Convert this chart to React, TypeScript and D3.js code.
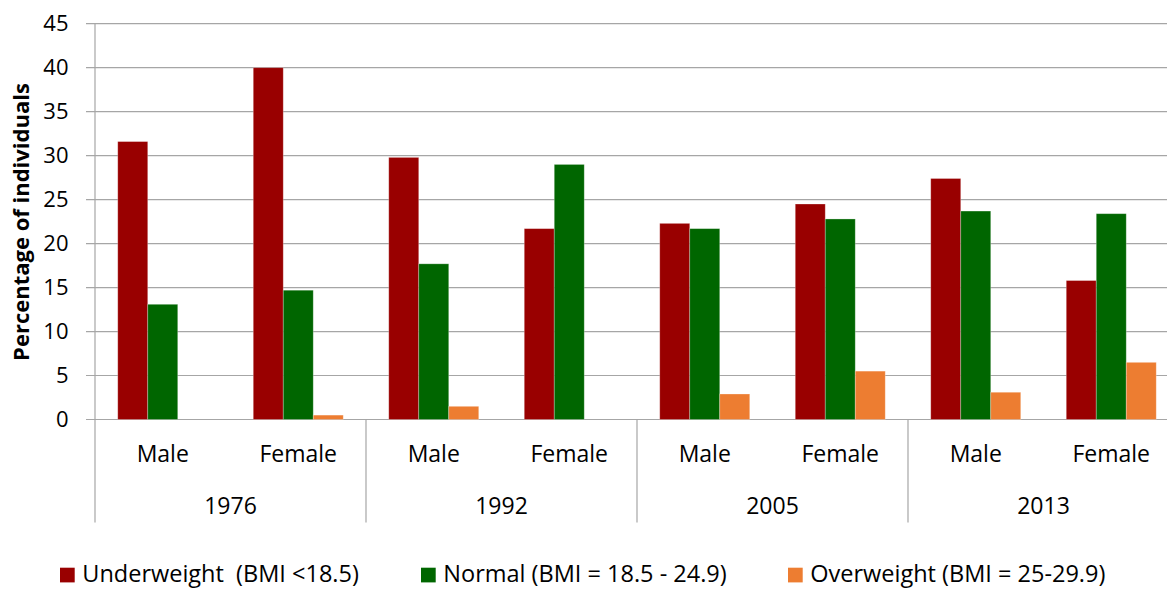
import React from "react";
import * as d3 from "d3";

const years = ["1976", "1992", "2005", "2013"];
const sexes = ["Male", "Female"];
const seriesNames = [
  "Underweight  (BMI <18.5)",
  "Normal (BMI = 18.5 - 24.9)",
  "Overweight (BMI = 25-29.9)",
];
const seriesColors = ["#990000", "#006600", "#ED7D31"];
// order: 1976 M, 1976 F, 1992 M, 1992 F, 2005 M, 2005 F, 2013 M, 2013 F
const underweight = [31.6, 40.0, 29.8, 21.7, 22.3, 24.5, 27.4, 15.8];
const normal = [13.1, 14.7, 17.7, 29.0, 21.7, 22.8, 23.7, 23.4];
const overweight = [0, 0.5, 1.5, 0, 2.9, 5.5, 3.1, 6.5];
const yTicks = [0, 5, 10, 15, 20, 25, 30, 35, 40, 45];

const W = 1167;
const H = 589;
const FONT = "'Open Sans', sans-serif";

export default function App() {
  const left = 95;
  const catW = 135.5;
  const right = left + catW * years.length * sexes.length;
  const y0 = 419.5;
  const yTop = 23.7;
  const y = d3.scaleLinear().domain([0, 45]).range([y0, yTop]);

  const cats: { year: string; sex: string; key: string }[] = [];
  years.forEach((yr) => sexes.forEach((s) => cats.push({ year: yr, sex: s, key: yr + "-" + s })));

  const x0 = d3.scaleBand<string>().domain(cats.map((c) => c.key)).range([left, right]).padding(0);
  const xYear = d3.scaleBand<string>().domain(years).range([left, right]).padding(0);
  const barGroupW = 90;
  const x1 = d3.scaleBand<string>().domain(seriesNames).range([0, barGroupW]).padding(0);
  const offset = (x0.bandwidth() - barGroupW) / 2;

  const data = [underweight, normal, overweight];
  const grid = "#A6A6A6";
  const legendX = [60, 421, 788];

  return (
    <svg
      width={W}
      height={H}
      style={{ position: "absolute", left: 0, top: 0, background: "#fff" }}
      fontFamily={FONT}
    >
      <rect x={0} y={0} width={W} height={H} fill="#fff" />
      {yTicks.map((t) => (
        <g key={t}>
          <line x1={86} x2={right} y1={y(t)} y2={y(t)} stroke={grid} strokeWidth={1.2} />
          <text x={68.5} y={y(t)} dy="0.33em" textAnchor="end" fontSize={22} fill="#000">
            {t}
          </text>
        </g>
      ))}
      <line x1={left} x2={left} y1={yTop} y2={y0} stroke={grid} strokeWidth={1.2} />
      {data.map((vals, si) =>
        vals.map((v, ci) =>
          v > 0 ? (
            <rect
              key={si + "-" + ci}
              x={(x0(cats[ci].key) as number) + offset + (x1(seriesNames[si]) as number)}
              y={y(v)}
              width={x1.bandwidth()}
              height={y(0) - y(v)}
              fill={seriesColors[si]}
              stroke="#ffffff"
              strokeOpacity={0.35}
              strokeWidth={0.8}
            />
          ) : null
        )
      )}
      {years.concat(["end"]).map((yr, i) => {
        const xx = left + i * xYear.bandwidth();
        return <line key={yr} x1={xx} x2={xx} y1={y0} y2={522.5} stroke={grid} strokeWidth={1.2} />;
      })}
      {cats.map((c) => (
        <text
          key={c.key}
          x={(x0(c.key) as number) + x0.bandwidth() / 2}
          y={461.7}
          textAnchor="middle"
          fontSize={23}
          fill="#000"
        >
          {c.sex}
        </text>
      ))}
      {years.map((yr) => (
        <text
          key={yr}
          x={(xYear(yr) as number) + xYear.bandwidth() / 2}
          y={514}
          textAnchor="middle"
          fontSize={23}
          fill="#000"
        >
          {yr}
        </text>
      ))}
      <text
        transform={`translate(29,222) rotate(-90)`}
        textAnchor="middle"
        fontSize={22}
        fontWeight="bold"
        fill="#000"
      >
        Percentage of individuals
      </text>
      {seriesNames.map((name, i) => {
        const lx = legendX[i];
        return (
          <g key={name}>
            <rect x={lx} y={567.7} width={14.7} height={14.7} fill={seriesColors[i]} />
            <text x={lx + 22.3} y={582.3} fontSize={23.5} fill="#000" style={{ whiteSpace: "pre" }}>
              {name}
            </text>
          </g>
        );
      })}
    </svg>
  );
}
